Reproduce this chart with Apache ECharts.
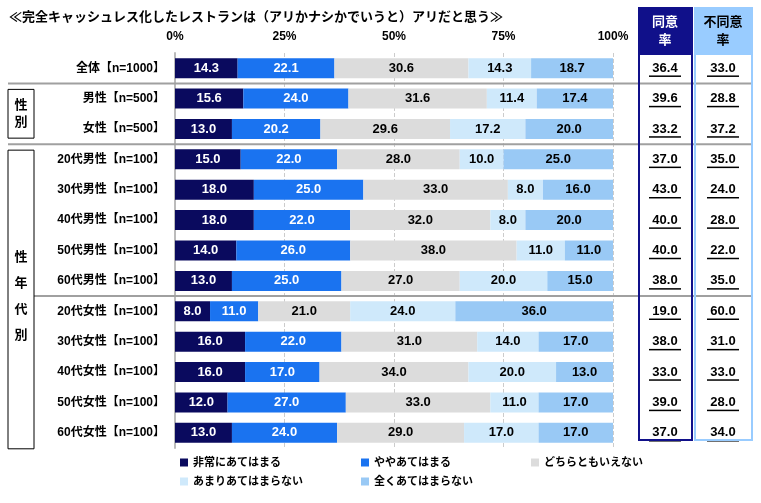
<!DOCTYPE html><html><head><meta charset="utf-8">
<script src="https://cdn.jsdelivr.net/npm/echarts@6/dist/echarts.min.js"></script>
<style>body{margin:0}#c{width:761px;height:503px}</style></head><body><div id="c"></div>
<script>
const categories=['全体【n=1000】','男性【n=500】','女性【n=500】','20代男性【n=100】','30代男性【n=100】','40代男性【n=100】','50代男性【n=100】','60代男性【n=100】','20代女性【n=100】','30代女性【n=100】','40代女性【n=100】','50代女性【n=100】','60代女性【n=100】'];
const seriesNames=['非常にあてはまる','ややあてはまる','どちらともいえない','あまりあてはまらない','全くあてはまらない'];
const s1=[14.3,15.6,13.0,15,18,18,14,13,8,16,16,12,13];
const s2=[22.1,24.0,20.2,22,25,22,26,25,11,22,17,27,24];
const s3=[30.6,31.6,29.6,28,33,32,38,27,21,31,34,33,29];
const s4=[14.3,11.4,17.2,10,8,8,11,20,24,14,20,11,17];
const s5=[18.7,17.4,20.0,25,16,20,11,15,36,17,13,17,17];
const agree=[36.4,39.6,33.2,37.0,43.0,40.0,40.0,38.0,19.0,38.0,33.0,39.0,37.0];
const disagree=[33.0,28.8,37.2,35.0,24.0,28.0,22.0,35.0,60.0,31.0,33.0,28.0,34.0];
const xTicks=[0,25,50,75,100];
const colors=['#0a0a5e','#1a73f0','#dcdcdc','#cfe9fb','#99c9f5'];
const F='"Liberation Sans",Arial,"Noto Sans CJK JP",sans-serif';
const chart=echarts.init(document.getElementById('c'));
const vals=[s1,s2,s3,s4,s5];
const series=vals.map((d,i)=>({name:seriesNames[i],type:'bar',stack:'a',barWidth:20,data:d,itemStyle:{color:colors[i]},
 label:{show:true,position:'inside',formatter:p=>p.value.toFixed(1),color:i<2?'#fff':'#000',fontSize:13,fontWeight:'bold',fontFamily:F}}));
chart.setOption({
 animation:false,
 title:{text:'≪完全キャッシュレス化したレストランは（アリかナシかでいうと）アリだと思う≫',left:4,top:6,textStyle:{fontSize:13,fontWeight:'bold',color:'#000',fontFamily:F}},
 legend:[{data:seriesNames.slice(0,3),left:175,top:452,itemWidth:8,itemHeight:8,itemGap:80,icon:'rect',textStyle:{fontSize:11,fontWeight:'bold',color:'#000',fontFamily:F}},
  {data:seriesNames.slice(3),left:175,top:471,itemWidth:8,itemHeight:8,itemGap:58,icon:'rect',textStyle:{fontSize:11,fontWeight:'bold',color:'#000',fontFamily:F}}],
 grid:{left:175,right:148,top:53,bottom:55},
 xAxis:{type:'value',position:'top',min:0,max:100,interval:25,axisLine:{show:false},axisTick:{show:false},
  axisLabel:{formatter:v=>xTicks.includes(v)?v+'%':'',fontSize:12,fontWeight:'bold',color:'#000',fontFamily:F,margin:10},
  splitLine:{show:true,lineStyle:{color:'#ccc',type:'dashed'}}},
 yAxis:{type:'category',data:categories,inverse:true,axisTick:{show:false},axisLine:{show:true,lineStyle:{color:'#bbb',width:2}},
  axisLabel:{fontSize:12,fontWeight:'bold',color:'#000',fontFamily:F,margin:10}},
 series
});
const g=[];
const yc=i=>chart.convertToPixel({yAxisIndex:0},categories[i]);
// column boxes
g.push({type:'rect',shape:{x:639,y:8,width:53,height:47},style:{fill:'#10108a'}});
g.push({type:'rect',shape:{x:695,y:8,width:57,height:47},style:{fill:'#99ccff'}});
g.push({type:'text',style:{text:'同意\n率',x:665,y:31,align:'center',verticalAlign:'middle',fill:'#fff',font:'bold 13px '+F,lineHeight:18}});
g.push({type:'text',style:{text:'不同意\n率',x:723,y:31,align:'center',verticalAlign:'middle',fill:'#000',font:'bold 13px '+F,lineHeight:18}});
// separators
[[0,1],[2,3],[7,8]].forEach(([a,b])=>{const y=(yc(a)+yc(b))/2;g.push({type:'line',shape:{x1:8,y1:y,x2:752,y2:y},style:{stroke:'#a0a0a0',lineWidth:2},z:5});});
g.push({type:'rect',shape:{x:639,y:8,width:53,height:432},style:{fill:'none',stroke:'#10108a',lineWidth:2},z:6});
g.push({type:'rect',shape:{x:695,y:8,width:57,height:432},style:{fill:'none',stroke:'#99ccff',lineWidth:2},z:6});
// group boxes
const s23=(yc(2)+yc(3))/2;
g.push({type:'rect',shape:{x:8,y:(yc(0)+yc(1))/2+6,width:26,height:s23-(yc(0)+yc(1))/2-12},style:{fill:'#fff',stroke:'#000',lineWidth:1},z:7});
g.push({type:'text',style:{text:'性\n別',x:21,y:(yc(1)+yc(2))/2,align:'center',verticalAlign:'middle',font:'bold 13px '+F,lineHeight:17,fill:'#000'},z:8});
g.push({type:'rect',shape:{x:8,y:s23+6,width:26,height:yc(12)+10-s23},style:{fill:'#fff',stroke:'#000',lineWidth:1},z:7});
g.push({type:'text',style:{text:'性\n年\n代\n別',x:21,y:(s23+yc(12)+16)/2,align:'center',verticalAlign:'middle',font:'bold 13px '+F,lineHeight:26,fill:'#000'},z:8});
// values
categories.forEach((c,i)=>{const y=yc(i);
 [[665,agree[i]],[723,disagree[i]]].forEach(([x,v])=>{
  g.push({type:'text',style:{text:v.toFixed(1),x,y,align:'center',verticalAlign:'middle',font:'bold 13px '+F,fill:'#000'}});
  g.push({type:'line',shape:{x1:x-16,y1:y+8,x2:x+16,y2:y+8},style:{stroke:'#000',lineWidth:1.5}});
 });});
chart.setOption({graphic:g});
</script></body></html>
